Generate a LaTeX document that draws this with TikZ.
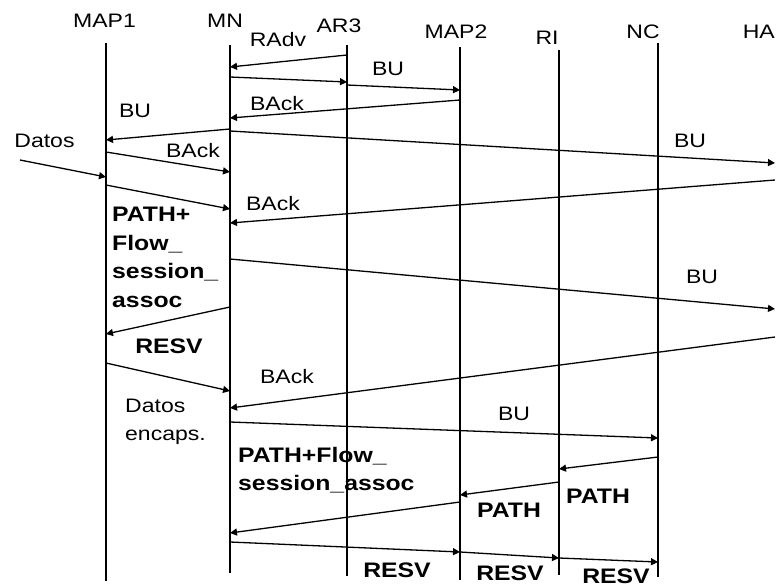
\documentclass[tikz,border=0pt]{standalone}
\usepackage{fontspec}
\setmainfont{Liberation Sans}[FakeStretch=1.18]
\usetikzlibrary{arrows.meta}

\begin{document}
\begin{tikzpicture}[x=1pt, y=-1pt, every node/.style={inner sep=0pt, font=\fontsize{19.5}{28}\selectfont}, lbl/.style={anchor=base}, bold/.style={font=\fontsize{21}{28.5}\selectfont\bfseries}, life/.style={line width=2pt}, msg/.style={line width=1.3pt, -{Triangle[length=7pt,width=7pt]}}]
\fill[white] (0,0) rectangle (776,586);
\useasboundingbox (0,0) rectangle (776,586);
% entities
\node[lbl] (map1) at (104.5,28) {MAP1};
\node[lbl] (mn) at (225,28) {MN};
\node[lbl] (ar3) at (339,33) {AR3};
\node[lbl] (map2) at (456,38) {MAP2};
\node[lbl] (ri) at (547,45) {RI};
\node[lbl] (nc) at (643,38) {NC};
\node[lbl, anchor=base east] (ha) at (775,38) {HA};
% lifelines
\coordinate (MAP1) at (106,43); \coordinate (MN) at (230,45); \coordinate (AR3) at (347,45);
\coordinate (MAP2) at (460,47); \coordinate (RI) at (559,50); \coordinate (NC) at (658,43);
\coordinate (HA) at (775,0); \coordinate (src) at (20,160);
\draw[life] (MAP1) -- (MAP1 |- 0,581);
\draw[life] (MN) -- (MN |- 0,573);
\draw[life] (AR3) -- (AR3 |- 0,576);
\draw[life] (MAP2) -- (MAP2 |- 0,580);
\draw[life] (RI) -- (RI |- 0,575);
\draw[life] (NC) -- (NC |- 0,577);
% messages
\draw[msg] (AR3 |- 0,55) -- (MN |- 0,67);
\draw[msg] (MN |- 0,77) -- (AR3 |- 0,82);
\draw[msg] (AR3 |- 0,85) -- (MAP2 |- 0,90);
\draw[msg] (MAP2 |- 0,100) -- (MN |- 0,118);
\draw[msg] (MN |- 0,129) -- (MAP1 |- 0,140);
\draw[msg] (MN |- 0,131) -- (HA |- 0,163);
\draw[msg] (src) -- (MAP1 |- 0,177);
\draw[msg] (MAP1 |- 0,152) -- (MN |- 0,172);
\draw[msg] (MAP1 |- 0,185) -- (MN |- 0,209);
\draw[msg] (HA |- 0,180) -- (MN |- 0,223);
\draw[msg] (MN |- 0,259) -- (HA |- 0,309);
\draw[msg] (MN |- 0,307) -- (MAP1 |- 0,334);
\draw[msg] (MAP1 |- 0,363) -- (MN |- 0,391);
\draw[msg] (HA |- 0,337) -- (MN |- 0,408);
\draw[msg] (MN |- 0,422) -- (NC |- 0,438);
\draw[msg] (NC |- 0,457) -- (RI |- 0,469);
\draw[msg] (RI |- 0,482) -- (MAP2 |- 0,495);
\draw[msg] (MAP2 |- 0,502) -- (MN |- 0,533);
\draw[msg] (MN |- 0,542) -- (MAP2 |- 0,552);
\draw[msg] (MAP2 |- 0,552) -- (RI |- 0,558);
\draw[msg] (RI |- 0,558) -- (NC |- 0,562);
% labels
\node[lbl] (radv) at (278,47) {RAdv};
\node[lbl] (bu1) at (388,75) {BU};
\node[lbl] (back1) at (277,110) {BAck};
\node[lbl] (bu2) at (135,117) {BU};
\node[lbl] (bu3) at (690,147) {BU};
\node[lbl] (datos) at (44.5,147) {Datos};
\node[lbl] (back2) at (193,157) {BAck};
\node[bold, anchor=north west, align=left] (path1) at (112,207) {PATH+\\Flow\_\\session\_\\assoc};
\node[lbl] (back3) at (273,210) {BAck};
\node[lbl] (bu4) at (702,283) {BU};
\node[lbl, bold] (resv1) at (169,353) {RESV};
\node[anchor=north west, align=left] (encaps) at (125,399) {Datos\\encaps.};
\node[lbl] (back4) at (287,383) {BAck};
\node[lbl] (bu5) at (514,420) {BU};
\node[lbl, bold] (path2) at (598,503) {PATH};
\node[lbl, bold] (path3) at (509,517) {PATH};
\node[bold, anchor=north west, align=left] (path4) at (238,447) {PATH+Flow\_\\session\_assoc};
\node[lbl, bold] (resv2) at (397,577) {RESV};
\node[lbl, bold] (resv3) at (510,580) {RESV};
\node[lbl, bold] (resv4) at (616,583) {RESV};
\end{tikzpicture}
\end{document}
